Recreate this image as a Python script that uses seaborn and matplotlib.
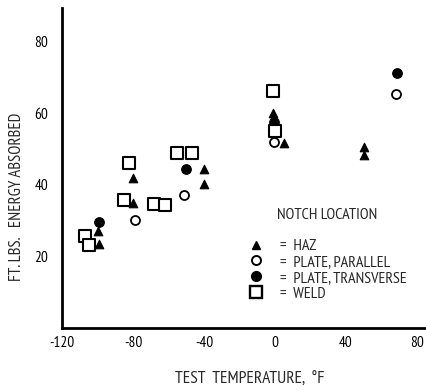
import matplotlib
matplotlib.use("Agg")
import matplotlib.pyplot as plt
import seaborn as sns
import pandas as pd
from matplotlib.lines import Line2D

sns.set_style("white")
plt.rcParams['font.family'] = ['PT Sans Narrow', 'DejaVu Sans']

# Data (test temperature degF, energy absorbed ft-lbs)
haz_t = [-80, -80, -100, -99, -40, -40, -1, 5, 50, 50]
haz_e = [42, 35, 27, 23.4, 44.3, 40.3, 60, 51.6, 50.5, 48.3]
par_t = [-79, -51, -0.5, 68]
par_e = [30, 37.2, 52, 65.3]
trans_t = [-99, -50, -0.5, 69]
trans_e = [29.5, 44.4, 57.5, 71.2]
weld_t = [-82, -85, -68, -62, -107, -105, -55, -47, -1, 0]
weld_e = [46.1, 35.7, 34.5, 34.3, 25.6, 23, 49, 48.8, 66.3, 55]

groups = ["HAZ", "PLATE, PARALLEL", "PLATE, TRANSVERSE", "WELD"]
xticks = [-120, -80, -40, 0, 40, 80]
yticks = [20, 40, 60, 80]

frames = []
for g, t, e in zip(groups, [haz_t, par_t, trans_t, weld_t], [haz_e, par_e, trans_e, weld_e]):
    frames.append(pd.DataFrame({"temp": t, "energy": e, "loc": g}))
df = pd.concat(frames, ignore_index=True)

styles = {
    "HAZ": dict(marker="^", s=38, facecolor="black", edgecolor="black", linewidth=0.8),
    "PLATE, PARALLEL": dict(marker="o", s=42, facecolor="white", edgecolor="black", linewidth=1.3),
    "PLATE, TRANSVERSE": dict(marker="o", s=48, facecolor="black", edgecolor="black", linewidth=0.8),
    "WELD": dict(marker="s", s=85, facecolor="white", edgecolor="black", linewidth=1.5),
}

fig = plt.figure(figsize=(4.27, 3.92), dpi=100)
ax = fig.add_axes([62/427, 1-327.5/392, (425-62)/427, (327.5-8)/392])

for g in groups:
    sub = df[df["loc"] == g]
    sns.scatterplot(data=sub, x="temp", y="energy", ax=ax, legend=False, zorder=3, **styles[g])

ax.set_xlim(-120, 84.5)
ax.set_ylim(0, 89.5)
ax.set_xticks(xticks)
ax.set_yticks(yticks)
ax.set_xticklabels([str(v) for v in xticks])
ax.set_yticklabels([str(v) for v in yticks])
ax.tick_params(axis="both", direction="in", length=11, width=1.5, labelsize=11, colors="black")
ax.tick_params(axis="y", pad=10)
ax.tick_params(axis="x", pad=6)
for side in ["top", "right"]:
    ax.spines[side].set_visible(False)
for side in ["left", "bottom"]:
    ax.spines[side].set_linewidth(2)
    ax.spines[side].set_color("black")
ax.set_xlabel("")
ax.set_ylabel("")

fig.text(250/427, 1-380/392, "TEST  TEMPERATURE,  °F", ha="center", va="center", fontsize=12.5)
fig.text(17/427, 1-197/392, "FT. LBS.   ENERGY ABSORBED", ha="center", va="center", rotation=90, fontsize=12)

fig.text(327/427, 1-215/392, "NOTCH LOCATION", ha="center", va="center", fontsize=11.5)

handles = [
    Line2D([], [], linestyle="none", marker="^", markersize=6, markerfacecolor="black", markeredgecolor="black"),
    Line2D([], [], linestyle="none", marker="o", markersize=6.5, markerfacecolor="white", markeredgecolor="black", markeredgewidth=1.4),
    Line2D([], [], linestyle="none", marker="o", markersize=7, markerfacecolor="black", markeredgecolor="black"),
    Line2D([], [], linestyle="none", marker="s", markersize=8.5, markerfacecolor="white", markeredgecolor="black", markeredgewidth=1.7),
]
labels = ["=  " + g for g in groups]
leg = ax.legend(handles, labels, loc="upper left",
                bbox_to_anchor=(240/427, 1-231/392), bbox_transform=fig.transFigure,
                frameon=False, fontsize=11.5,
                handlelength=1.0, handletextpad=1.0, labelspacing=0.1, borderpad=0)

fig.savefig("out.png", dpi=100)
